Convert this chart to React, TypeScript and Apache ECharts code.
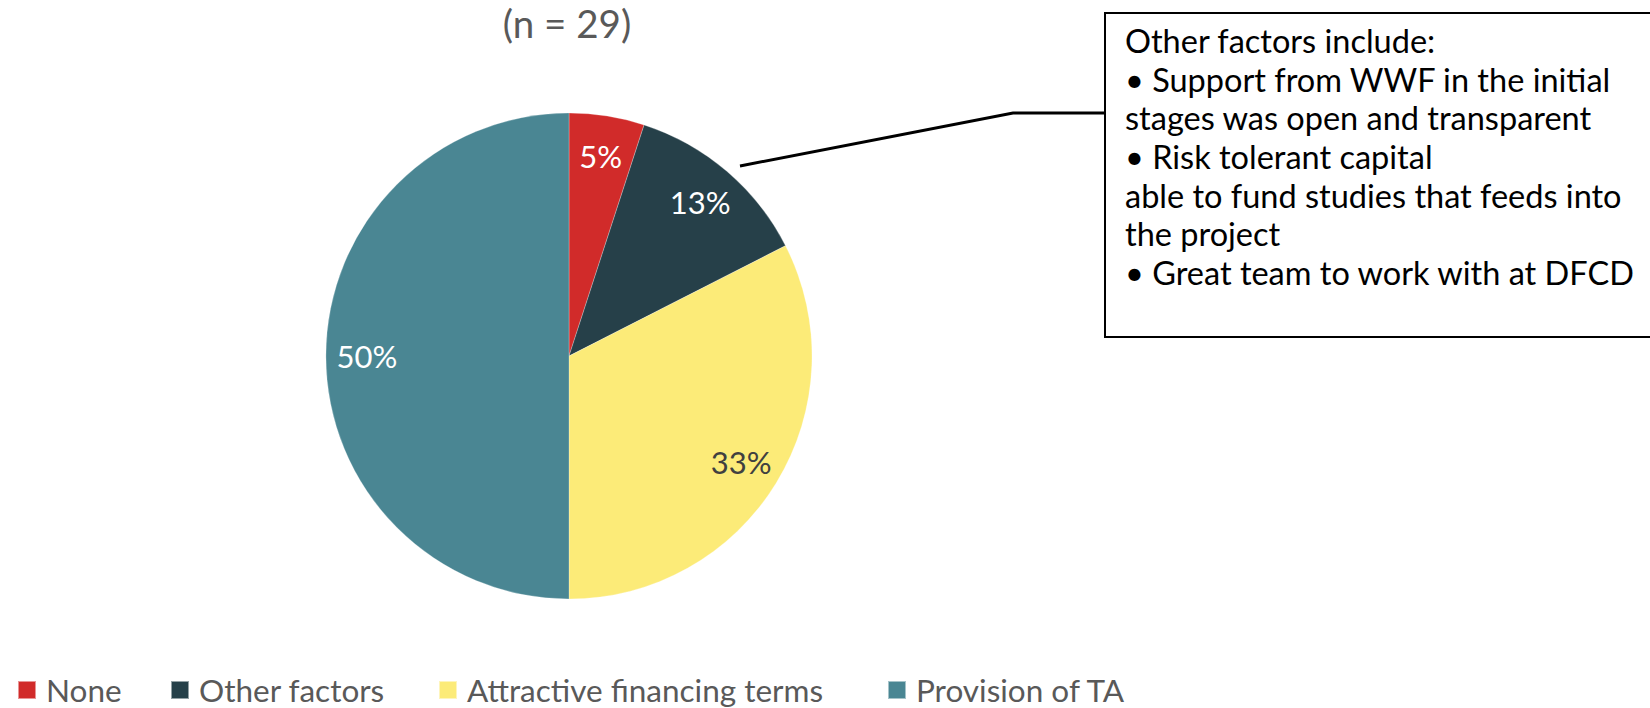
import React, { useEffect, useRef } from "react";
import * as echarts from "echarts";

const categories = ["None", "Other factors", "Attractive financing terms", "Provision of TA"];
const shares = [5, 12.5, 32.5, 50];
const colors = ["#D12B2A", "#264049", "#FCEB78", "#4A8693"];
const labelColors = ["#FFFFFF", "#FFFFFF", "#404040", "#FFFFFF"];
const legendLefts = [17, 170, 438, 887];
const titleText = "(n = 29)";
const noteLines = [
  "Other factors include:",
  "• Support from WWF in the initial",
  "stages was open and transparent",
  "• Risk tolerant capital",
  "able to fund studies that feeds into",
  "the project",
  "• Great team to work with at DFCD",
];

const FONT = "Lato, 'Noto Sans', sans-serif";

export default function App() {
  const ref = useRef<HTMLDivElement>(null);
  useEffect(() => {
    if (!ref.current) return;
    const chart = echarts.init(ref.current, undefined, { renderer: "svg" });
    const data = categories.map((name, i) => ({
      name,
      value: shares[i],
      itemStyle: { color: colors[i] },
    }));
    const labelData = categories.map((name, i) => ({
      name,
      value: shares[i],
      label: { color: labelColors[i] },
    }));
    chart.setOption({
      animation: false,
      backgroundColor: "#FFFFFF",
      textStyle: { fontFamily: FONT },
      title: {
        text: titleText,
        left: 567,
        top: 0,
        padding: 0,
        textAlign: "center",
        textStyle: {
          fontFamily: FONT,
          fontSize: 38.5,
          lineHeight: 46,
          fontWeight: "normal",
          color: "#595959",
        },
      },
      legend: categories.map((name, i) => ({
        data: [name],
        left: legendLefts[i],
        top: 671,
        padding: 0,
        icon: "rect",
        itemWidth: 18,
        itemHeight: 18,
        selectedMode: false,
        textStyle: {
          fontFamily: FONT,
          fontSize: 31.5,
          lineHeight: 38,
          color: "#595959",
          padding: [0, 0, 0, 5],
        },
      })),
      series: [
        {
          type: "pie",
          center: [569, 356],
          radius: 243,
          startAngle: 90,
          clockwise: true,
          silent: true,
          label: { show: false },
          labelLine: { show: false },
          itemStyle: { borderColor: "rgba(255,255,255,0.5)", borderWidth: 0.5 },
          data,
        },
        {
          type: "pie",
          center: [569, 356],
          radius: [155, 243],
          startAngle: 90,
          clockwise: true,
          silent: true,
          itemStyle: { color: "rgba(0,0,0,0)" },
          label: {
            show: true,
            position: "inside",
            fontFamily: FONT,
            fontSize: 31,
            formatter: (p: any) => Math.round(p.value) + "%",
          },
          labelLine: { show: false },
          emphasis: { disabled: true },
          data: labelData,
        },
      ],
      graphic: [
        {
          type: "rect",
          shape: { x: 1105, y: 13, width: 560, height: 324 },
          style: { fill: "#FFFFFF", stroke: "#000000", lineWidth: 2 },
        },
        {
          type: "polyline",
          shape: { points: [[740, 166], [1013, 113], [1105, 113]] },
          style: { stroke: "#000000", lineWidth: 3, fill: null },
        },
        {
          type: "text",
          x: 1125,
          y: 21,
          style: {
            text: noteLines.join("\n"),
            fontFamily: FONT,
            fontSize: 32.5,
            lineHeight: 38.7,
            fill: "#000000",
          },
        },
      ],
    });
    return () => chart.dispose();
  }, []);
  return (
    <div
      ref={ref}
      style={{ position: "fixed", left: 0, top: 0, width: 1650, height: 708 }}
    />
  );
}
